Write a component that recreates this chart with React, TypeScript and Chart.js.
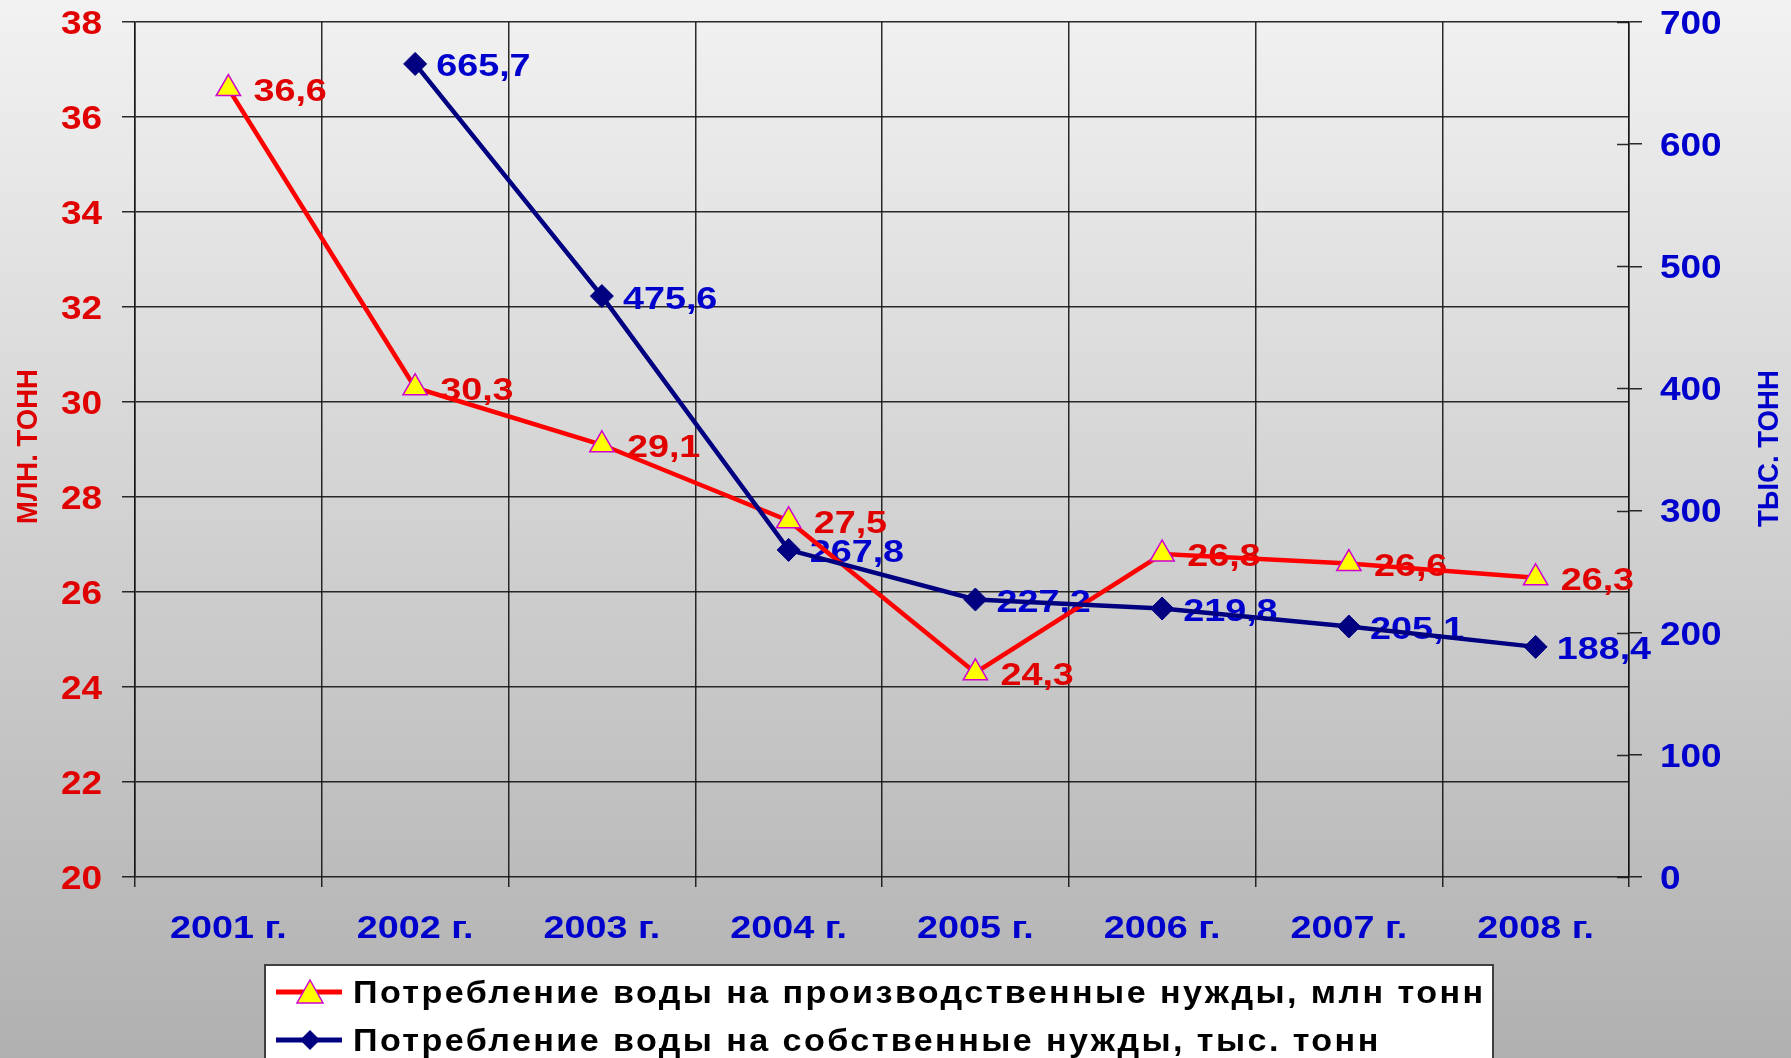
import React, { useEffect, useRef } from "react";
import { Chart, registerables } from "chart.js";

Chart.register(...registerables);

// ---------- data ----------
const categories = ["2001 г.", "2002 г.", "2003 г.", "2004 г.", "2005 г.", "2006 г.", "2007 г.", "2008 г."];
const productionWater = [36.6, 30.3, 29.1, 27.5, 24.3, 26.8, 26.6, 26.3];
const ownNeedsWater: (number | null)[] = [null, 665.7, 475.6, 267.8, 227.2, 219.8, 205.1, 188.4];
const leftAxisRange = [20, 38];
const leftAxisStep = 2;
const rightAxisRange = [0, 700];
const rightAxisStep = 100;
const leftAxisTitle = "МЛН. ТОНН";
const rightAxisTitle = "ТЫС. ТОНН";
const legendLabels = [
  "Потребление воды на производственные нужды, млн тонн",
  "Потребление воды на собственные нужды, тыс. тонн",
];

// ---------- styles ----------
const FONT = "'Liberation Sans', Arial, sans-serif";
const RED = "#ff0000";
const RED_TEXT = "#e00000";
const BLUE_TEXT = "#0000cc";
const NAVY = "#000080";
const GRID = "rgba(20,20,20,0.9)";

const fmt = (v: number) => v.toFixed(1).replace(".", ",");

function drawText(
  ctx: CanvasRenderingContext2D,
  text: string,
  x: number,
  y: number,
  size: number,
  color: string,
  align: "left" | "right" | "center",
  sx: number,
  spacing = 0
) {
  ctx.save();
  ctx.font = `bold ${size}px ${FONT}`;
  (ctx as any).letterSpacing = `${spacing}px`;
  ctx.fillStyle = color;
  ctx.textAlign = "left";
  ctx.textBaseline = "alphabetic";
  const w = ctx.measureText(text).width * sx;
  const left = align === "left" ? x : align === "right" ? x - w : x - w / 2;
  ctx.translate(left, y + size * 0.716 / 2);
  ctx.scale(sx, 1);
  ctx.fillText(text, 0, 0);
  ctx.restore();
}

function drawRotatedTitle(ctx: CanvasRenderingContext2D, text: string, cx: number, cy: number, size: number, length: number, color: string) {
  ctx.save();
  ctx.font = `bold ${size}px ${FONT}`;
  const w = ctx.measureText(text).width;
  const s = length / w;
  ctx.translate(cx, cy);
  ctx.rotate(-Math.PI / 2);
  ctx.scale(s, 1);
  ctx.fillStyle = color;
  ctx.textAlign = "center";
  ctx.textBaseline = "alphabetic";
  ctx.fillText(text, 0, size * 0.716 / 2);
  ctx.restore();
}

const customPlugin = {
  id: "customDecor",
  beforeDraw(chart: any) {
    const { ctx, width, height } = chart;
    ctx.save();
    const g = ctx.createLinearGradient(0, 0, 0, height);
    g.addColorStop(0, "#f2f2f2");
    g.addColorStop(1, "#b0b0b0");
    ctx.fillStyle = g;
    ctx.fillRect(0, 0, width, height);
    ctx.restore();
  },
  beforeDatasetsDraw(chart: any) {
    const { ctx } = chart;
    const m0 = chart.getDatasetMeta(0);
    m0.data.forEach((pt: any, i: number) => {
      const v = productionWater[i];
      if (v == null) return;
      drawText(ctx, fmt(v), pt.x + 25, pt.y + 1, 32, RED_TEXT, "left", 1.18);
    });
    const m1 = chart.getDatasetMeta(1);
    m1.data.forEach((pt: any, i: number) => {
      const v = ownNeedsWater[i];
      if (v == null) return;
      drawText(ctx, fmt(v), pt.x + 21, pt.y + 1, 32, BLUE_TEXT, "left", 1.18);
    });
  },
  afterDraw(chart: any) {
    const { ctx, chartArea } = chart;
    const y = chart.scales.y;
    const y1 = chart.scales.y1;
    const x = chart.scales.x;

    // right axis inner tick marks
    ctx.save();
    ctx.strokeStyle = GRID;
    ctx.lineWidth = 1.5;
    y1.ticks.forEach((_t: any, i: number) => {
      const py = Math.round(y1.getPixelForTick(i)) + 0.5;
      ctx.beginPath();
      ctx.moveTo(y1.left - 12, py);
      ctx.lineTo(y1.left, py);
      ctx.stroke();
    });
    ctx.restore();

    // tick labels
    y.ticks.forEach((t: any, i: number) => {
      drawText(ctx, String(t.value), y.right - 33, y.getPixelForTick(i), 33, RED_TEXT, "right", 1.12);
    });
    y1.ticks.forEach((t: any, i: number) => {
      drawText(ctx, String(t.value), y1.left + 31, y1.getPixelForTick(i), 33, BLUE_TEXT, "left", 1.12);
    });
    x.ticks.forEach((_t: any, i: number) => {
      drawText(ctx, categories[i], x.getPixelForTick(i), x.top + 49.5, 32, BLUE_TEXT, "center", 1.18);
    });

    // axis titles
    const midY = (chartArea.top + chartArea.bottom) / 2;
    drawRotatedTitle(ctx, leftAxisTitle, 26, midY - 3, 30, 155, "#dd0000");
    drawRotatedTitle(ctx, rightAxisTitle, 1767, midY - 1, 30, 157, BLUE_TEXT);

    // legend box
    ctx.save();
    ctx.fillStyle = "#ffffff";
    ctx.fillRect(265, 965, 1228, 110);
    ctx.strokeStyle = "#404040";
    ctx.lineWidth = 2;
    ctx.strokeRect(265, 965, 1228, 110);
    ctx.restore();

    const rows = [992, 1040];
    ctx.save();
    // row 1 marker
    ctx.strokeStyle = RED;
    ctx.lineWidth = 5;
    ctx.beginPath();
    ctx.moveTo(276, rows[0]);
    ctx.lineTo(342, rows[0]);
    ctx.stroke();
    ctx.beginPath();
    ctx.moveTo(310, rows[0] - 12);
    ctx.lineTo(323, rows[0] + 11);
    ctx.lineTo(297, rows[0] + 11);
    ctx.closePath();
    ctx.fillStyle = "#ffff00";
    ctx.fill();
    ctx.strokeStyle = "#d000d0";
    ctx.lineWidth = 1.5;
    ctx.stroke();
    // row 2 marker
    ctx.strokeStyle = NAVY;
    ctx.lineWidth = 5;
    ctx.beginPath();
    ctx.moveTo(276, rows[1]);
    ctx.lineTo(342, rows[1]);
    ctx.stroke();
    ctx.beginPath();
    ctx.moveTo(310, rows[1] - 10);
    ctx.lineTo(320, rows[1]);
    ctx.lineTo(310, rows[1] + 10);
    ctx.lineTo(300, rows[1]);
    ctx.closePath();
    ctx.fillStyle = NAVY;
    ctx.fill();
    ctx.restore();

    // legend text, letter spacing chosen so line 1 spans the box
    const size = 31;
    const sx = 1.1;
    ctx.save();
    ctx.font = `bold ${size}px ${FONT}`;
    const w0 = ctx.measureText(legendLabels[0]).width;
    ctx.restore();
    const target = 1483 - 353;
    const spacing = Math.max(0, (target / sx - w0) / (legendLabels[0].length - 1));
    legendLabels.forEach((lab, i) => {
      drawText(ctx, lab, 353, rows[i], size, "#000000", "left", sx, spacing);
    });
  },
};

export default function App() {
  const ref = useRef<HTMLCanvasElement | null>(null);

  useEffect(() => {
    document.body.style.margin = "0";
    document.body.style.overflow = "hidden";
    const canvas = ref.current;
    if (!canvas) return;
    const chart = new Chart(canvas, {
      type: "line",
      data: {
        labels: categories,
        datasets: [
          {
            label: legendLabels[0],
            data: productionWater,
            yAxisID: "y",
            borderColor: RED,
            backgroundColor: RED,
            borderWidth: 4.5,
            pointStyle: "triangle",
            pointRadius: 14,
            pointBackgroundColor: "#ffff00",
            pointBorderColor: "#d000d0",
            pointBorderWidth: 1.5,
            tension: 0,
            order: 1,
          },
          {
            label: legendLabels[1],
            data: ownNeedsWater,
            yAxisID: "y1",
            borderColor: NAVY,
            backgroundColor: NAVY,
            borderWidth: 4.5,
            pointStyle: "rectRot",
            pointRadius: 11.5,
            pointBackgroundColor: NAVY,
            pointBorderColor: NAVY,
            pointBorderWidth: 1,
            tension: 0,
            order: 0,
          },
        ],
      },
      options: {
        responsive: false,
        animation: false,
        events: [],
        layout: { padding: { top: 22, left: 0, right: 0, bottom: 0 } },
        plugins: {
          legend: { display: false },
          tooltip: { enabled: false },
          title: { display: false },
        },
        scales: {
          x: {
            type: "category",
            offset: true,
            grid: { offset: true, color: GRID, lineWidth: 1.5, tickLength: 10, drawTicks: true },
            border: { display: false },
            ticks: { display: false },
            afterFit: (s: any) => {
              s.height = 181;
            },
          },
          y: {
            position: "left",
            min: leftAxisRange[0],
            max: leftAxisRange[1],
            ticks: { display: false, stepSize: leftAxisStep },
            grid: { color: GRID, lineWidth: 1.5, tickLength: 13 },
            border: { display: true, color: GRID, width: 1.5 },
            afterFit: (s: any) => {
              s.width = 135;
            },
          },
          y1: {
            position: "right",
            min: rightAxisRange[0],
            max: rightAxisRange[1],
            ticks: { display: false, stepSize: rightAxisStep },
            grid: { drawOnChartArea: false, color: GRID, lineWidth: 1.5, tickLength: 13 },
            border: { display: true, color: GRID, width: 1.5 },
            afterFit: (s: any) => {
              s.width = 162;
            },
          },
        },
      },
      plugins: [customPlugin],
    } as any);
    return () => chart.destroy();
  }, []);

  return (
    <div style={{ width: 1791, height: 1058, position: "relative" }}>
      <canvas ref={ref} width={1791} height={1058} style={{ display: "block", width: 1791, height: 1058 }} />
    </div>
  );
}
